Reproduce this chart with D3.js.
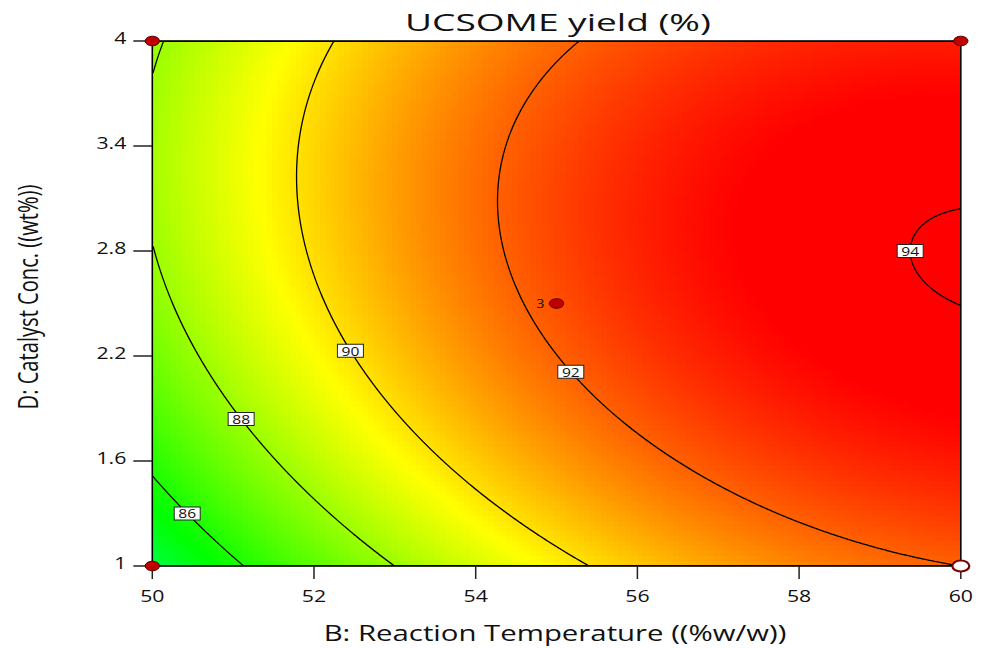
<!DOCTYPE html>
<html>
<head>
<meta charset="utf-8">
<script src="https://cdn.jsdelivr.net/npm/d3@7"></script>
<style>
  html, body { margin: 0; padding: 0; background: #fff; }
  svg { display: block; }
  text { font-family: "Open Sans", "Noto Sans", sans-serif; fill: #111; }
</style>
</head>
<body>
<svg id="chart" width="989" height="648"></svg>
<script>
// ---- Factor ranges (actual units) ----
const temperatureRange = [50, 60];
const catalystRange = [1, 4];

// ---- Fitted quadratic model, coded units (-1 .. +1) ----
const modelIntercept = 92.265;
const modelLinear = [3.15, 1.074];       // B, D
const modelInteraction = -0.551;         // BD
const modelQuadratic = [-1.411, -1.48];  // B^2, D^2

// ---- Contour levels and the catalyst concentration where each is labelled ----
const contourLevels = [86, 88, 90, 92, 94];
const labelCatalyst = [1.30, 1.84, 2.23, 2.11, 2.80];

// ---- Design points on this slice ----
const pointTemperature = [50, 60, 50, 55, 60];
const pointCatalyst = [4, 4, 1, 2.5, 1];
const pointReplicates = [1, 1, 1, 3, 1];
const pointOpen = [false, false, false, false, true];

// ---- Tick labels ----
const xTicks = [50, 52, 54, 56, 58, 60];
const yTicks = [1, 1.6, 2.2, 2.8, 3.4, 4];

// ---- Colour ramp anchors (response value -> colour) ----
const rampValues = [81.6, 85.6, 89.55, 93.5];
const rampColors = ["#00ffff", "#00ff00", "#ffff00", "#ff0000"];

// ---- Text ----
const titleText = "UCSOME yield (%)";
const xLabelText = "B: Reaction Temperature ((%w/w))";
const yLabelText = "D: Catalyst Conc. ((wt%))";

// ================= layout =================
const plot = { left: 152.3, right: 960.8, top: 41, bottom: 566 };

const svg = d3.select("#chart");
const x = d3.scaleLinear().domain(temperatureRange).range([plot.left, plot.right]);
const y = d3.scaleLinear().domain(catalystRange).range([plot.bottom, plot.top]);

function coded(v, range) {
  const mid = (range[0] + range[1]) / 2, half = (range[1] - range[0]) / 2;
  return (v - mid) / half;
}
function yieldAt(T, C) {
  const b = coded(T, temperatureRange), d = coded(C, catalystRange);
  return modelIntercept
    + modelLinear[0] * b + modelLinear[1] * d
    + modelInteraction * b * d
    + modelQuadratic[0] * b * b + modelQuadratic[1] * d * d;
}

const color = d3.scaleLinear()
  .domain(rampValues)
  .range(rampColors)
  .interpolate(d3.interpolateRgb)
  .clamp(true);

svg.append("defs").append("clipPath").attr("id", "plotClip")
  .append("rect")
  .attr("x", plot.left).attr("y", plot.top)
  .attr("width", plot.right - plot.left).attr("height", plot.bottom - plot.top);

// ---- colour fill (cell grid) ----
const cellCols = 135, cellRows = 105;
const cells = [];
for (let j = 0; j < cellRows; j++) {
  for (let i = 0; i < cellCols; i++) {
    const t0 = temperatureRange[0] + (temperatureRange[1] - temperatureRange[0]) * i / cellCols;
    const t1 = temperatureRange[0] + (temperatureRange[1] - temperatureRange[0]) * (i + 1) / cellCols;
    const c1 = catalystRange[1] - (catalystRange[1] - catalystRange[0]) * j / cellRows;
    const c0 = catalystRange[1] - (catalystRange[1] - catalystRange[0]) * (j + 1) / cellRows;
    cells.push({ t0, t1, c0, c1, v: yieldAt((t0 + t1) / 2, (c0 + c1) / 2) });
  }
}
const fill = svg.append("g").attr("clip-path", "url(#plotClip)");
fill.selectAll("rect").data(cells).join("rect")
  .attr("x", d => x(d.t0))
  .attr("y", d => y(d.c1))
  .attr("width", d => x(d.t1) - x(d.t0) + 0.6)
  .attr("height", d => y(d.c0) - y(d.c1) + 0.6)
  .attr("fill", d => color(d.v))
  .attr("shape-rendering", "crispEdges");

// ---- contour lines ----
const gx = 400, gy = 300;
const grid = new Float64Array(gx * gy);
for (let j = 0; j < gy; j++) {
  const C = catalystRange[1] - (catalystRange[1] - catalystRange[0]) * (j + 0.5) / gy;
  for (let i = 0; i < gx; i++) {
    const T = temperatureRange[0] + (temperatureRange[1] - temperatureRange[0]) * (i + 0.5) / gx;
    grid[j * gx + i] = yieldAt(T, C);
  }
}
const contours = d3.contours().size([gx, gy]).thresholds(contourLevels)(Array.from(grid));
const gridProjection = d3.geoTransform({
  point(px, py) {
    const T = temperatureRange[0] + (temperatureRange[1] - temperatureRange[0]) * px / gx;
    const C = catalystRange[1] - (catalystRange[1] - catalystRange[0]) * py / gy;
    this.stream.point(x(T), y(C));
  }
});
const contourPath = d3.geoPath(gridProjection);
svg.append("g").attr("clip-path", "url(#plotClip)")
  .selectAll("path").data(contours).join("path")
  .attr("d", contourPath)
  .attr("fill", "none")
  .attr("stroke", "#000")
  .attr("stroke-width", 1.3)
  .attr("stroke-linejoin", "round");

// ---- frame ----
svg.append("rect")
  .attr("x", plot.left).attr("y", plot.top)
  .attr("width", plot.right - plot.left).attr("height", plot.bottom - plot.top)
  .attr("fill", "none").attr("stroke", "#000").attr("stroke-width", 1.6);

// ---- axes ----
const tickStretch = 1.33;
const xAxis = svg.append("g");
xTicks.forEach(v => {
  xAxis.append("line")
    .attr("x1", x(v)).attr("x2", x(v))
    .attr("y1", plot.bottom).attr("y2", plot.bottom + 13)
    .attr("stroke", "#222").attr("stroke-width", 1.5);
  xAxis.append("text")
    .attr("transform", `translate(${x(v)},${plot.bottom + 35.5}) scale(${tickStretch},1)`)
    .attr("text-anchor", "middle")
    .attr("font-size", 16)
    .text(String(v));
});
const yAxis = svg.append("g");
yTicks.forEach(v => {
  yAxis.append("line")
    .attr("x1", plot.left - 19).attr("x2", plot.left)
    .attr("y1", y(v)).attr("y2", y(v))
    .attr("stroke", "#222").attr("stroke-width", 1.5);
  yAxis.append("text")
    .attr("transform", `translate(${plot.left - 26},${y(v) + 3}) scale(${tickStretch},1)`)
    .attr("text-anchor", "end")
    .attr("font-size", 16)
    .text(String(v));
});

// ---- titles (stretched horizontally to the figure's proportions) ----
function stretchedText(cx, baseline, size, str, width) {
  const t = svg.append("text")
    .attr("text-anchor", "middle")
    .attr("font-size", size)
    .text(str);
  const natural = t.node().getComputedTextLength();
  t.attr("transform", `translate(${cx},${baseline}) scale(${width / natural},1)`);
  return t;
}
stretchedText(558, 31, 23, titleText, 306);
stretchedText(555, 641, 21, xLabelText, 463);

const yl = svg.append("text")
  .attr("text-anchor", "middle")
  .attr("font-size", 19)
  .text(yLabelText);
const ylNatural = yl.node().getComputedTextLength();
yl.attr("transform", `translate(38,297) scale(1.45,${225 / ylNatural}) rotate(-90)`);

// ---- contour labels ----
function temperatureOnContour(level, C) {
  const steps = 400;
  let prevT = temperatureRange[0], prevV = yieldAt(prevT, C);
  for (let k = 1; k <= steps; k++) {
    const T = temperatureRange[0] + (temperatureRange[1] - temperatureRange[0]) * k / steps;
    const v = yieldAt(T, C);
    if ((prevV - level) * (v - level) <= 0) {
      let lo = prevT, hi = T;
      for (let it = 0; it < 40; it++) {
        const m = (lo + hi) / 2;
        if ((yieldAt(lo, C) - level) * (yieldAt(m, C) - level) <= 0) hi = m; else lo = m;
      }
      return (lo + hi) / 2;
    }
    prevT = T; prevV = v;
  }
  return null;
}
const labelG = svg.append("g");
contourLevels.forEach((level, k) => {
  const C = labelCatalyst[k];
  const T = temperatureOnContour(level, C);
  if (T === null) return;
  const g = labelG.append("g").attr("transform", `translate(${x(T)},${y(C)})`);
  g.append("rect")
    .attr("x", -13).attr("y", -6.5).attr("width", 26).attr("height", 13)
    .attr("fill", "#fff").attr("stroke", "#222").attr("stroke-width", 1);
  g.append("text")
    .attr("transform", "translate(0,4.8) scale(1.2,1)")
    .attr("text-anchor", "middle")
    .attr("font-size", 13)
    .text(String(level));
});

// ---- design points ----
const pts = pointTemperature.map((t, i) => ({
  t, c: pointCatalyst[i], reps: pointReplicates[i], open: pointOpen[i]
}));
const ptG = svg.append("g");
pts.forEach(p => {
  ptG.append("ellipse")
    .attr("cx", x(p.t)).attr("cy", y(p.c))
    .attr("rx", p.open ? 8.5 : 7.2).attr("ry", p.open ? 5.5 : 4.8)
    .attr("fill", p.open ? "#fff" : "#c00000")
    .attr("stroke", p.open ? "#7a0000" : "#5a0000")
    .attr("stroke-width", p.open ? 2.2 : 1);
  if (p.reps > 1) {
    ptG.append("text")
      .attr("transform", `translate(${x(p.t) - 12},${y(p.c) + 4.5}) scale(1.1,1)`)
      .attr("text-anchor", "end")
      .attr("font-size", 13)
      .attr("fill", "#222")
      .text(String(p.reps));
  }
});
</script>
</body>
</html>
